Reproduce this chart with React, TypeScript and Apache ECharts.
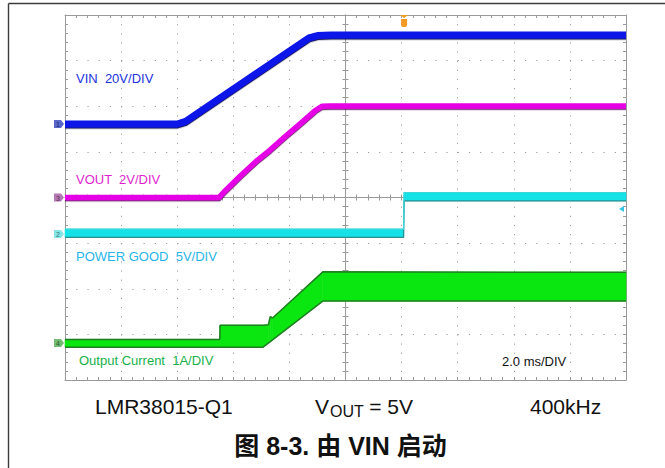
import React, { useEffect, useRef } from "react";
import * as echarts from "echarts";

// ---------- time base ----------
const MS_PER_DIV = 2.0;
const X_DIVS = 10;
const Y_DIVS = 8;
const TIME_MAX = MS_PER_DIV * X_DIVS;
const TRIGGER_T = 12.09;

// ---------- channel scales (units / division) and ground marker (divisions from bottom) ----------
const VIN_PER_DIV = 20;
const VOUT_PER_DIV = 2;
const PG_PER_DIV = 5;
const IOUT_PER_DIV = 1;
const VIN_ZERO_DIV = 5.61;
const VOUT_ZERO_DIV = 4.0;
const PG_ZERO_DIV = 3.2;
const IOUT_ZERO_DIV = 0.81;

// ---------- CH1: VIN (V) ----------
const VIN_T = [0, 4.0, 4.3, 8.7, 9.0, 9.5, 20];
const VIN_V = [0, 0, 1.2, 37.8, 38.8, 39.0, 39.0];

// ---------- CH3: VOUT (V) ----------
const VOUT_T = [0, 5.49, 5.74, 6.24, 6.81, 7.31, 7.84, 8.38, 8.91, 9.16, 9.45, 20];
const VOUT_V = [0, 0, 0.33, 0.93, 1.58, 2.08, 2.66, 3.23, 3.8, 4.0, 4.01, 4.01];

// ---------- CH2: POWER GOOD envelope (V) ----------
const PG_T = [0, 12.07, 12.09, 20];
const PG_LO = [-0.38, -0.38, 3.63, 3.63];
const PG_HI = [0.54, 0.54, 4.55, 4.55];
const PG_TRIGGER_LEVEL = 2.75;

// ---------- CH4: output current envelope (A) ----------
const IOUT_T = [0, 5.52, 5.53, 7.06, 7.25, 7.32, 7.4, 9.19, 20];
const IOUT_LO = [-0.09, -0.09, -0.09, -0.09, 0.0, 0.03, 0.07, 0.92, 0.92];
const IOUT_HI = [0.08, 0.08, 0.39, 0.39, 0.4, 0.58, 0.55, 1.56, 1.55];

// ---------- texts ----------
const CHANNEL_LABELS = ["VIN  20V/DIV", "VOUT  2V/DIV", "POWER GOOD  5V/DIV", "Output Current  1A/DIV"];
const CHANNEL_TAGS = ["1", "3", "2", "4"];
const TIMEBASE_LABEL = "2.0 ms/DIV";
const FOOT_DEVICE = "LMR38015-Q1";
const FOOT_V = "V";
const FOOT_SUB = "OUT";
const FOOT_VAL = "= 5V";
const FOOT_FREQ = "400kHz";
const CAPTION = "图 8-3. 由 VIN 启动";

// ---------- layout / style ----------
const W = 665;
const H = 468;
const GRID = { left: 65, right: 39, top: 15, bottom: 88 };
const PLOT_W = W - GRID.left - GRID.right;
const PLOT_H = H - GRID.top - GRID.bottom;
const FRAME = "#9a9a9a";
const DOT = "#9c9c9c";
const FONT = '"Liberation Sans", Arial, Helvetica, sans-serif';
const CJK_FONT = '"Liberation Sans", Arial, "Noto Sans CJK SC", sans-serif';
const TAG_PATH = "path://M0,0H7L10,4L7,8H0Z";
const TRIG_PATH = "path://M0,0H8L4,3Z M1,4H7V10Q7,12 5,12H3Q1,12 1,10Z";
const LEVEL_PATH = "path://M0,4L6,0V8Z";

const range = (zero: number, perDiv: number) => ({ min: -zero * perDiv, max: (Y_DIVS - zero) * perDiv });
const VIN_R = range(VIN_ZERO_DIV, VIN_PER_DIV);
const VOUT_R = range(VOUT_ZERO_DIV, VOUT_PER_DIV);
const PG_R = range(PG_ZERO_DIV, PG_PER_DIV);
const IOUT_R = range(IOUT_ZERO_DIV, IOUT_PER_DIV);

const zip = (t: number[], v: number[]) => t.map((x, i) => [x, v[i]]);
const segs = (t: number[], lo: number[], hi: number[]) =>
  t.slice(0, -1).map((x, i) => [x, lo[i], hi[i], t[i + 1], lo[i + 1], hi[i + 1]]);

function frameAxis(dim: "x" | "y", position: string, offset: number, inside: boolean, split: boolean) {
  const isX = dim === "x";
  const dot = isX ? PLOT_H / Y_DIVS / 5 : PLOT_W / X_DIVS / 5;
  return {
    type: "value",
    min: 0,
    max: isX ? TIME_MAX : Y_DIVS,
    interval: isX ? MS_PER_DIV : 1,
    position,
    offset,
    silent: true,
    axisLine: { show: true, onZero: false, lineStyle: { color: FRAME, width: 1 } },
    axisTick: { show: true, inside, length: 3, lineStyle: { color: FRAME, width: 1 } },
    minorTick: { show: true, splitNumber: 5, length: 3, lineStyle: { color: FRAME, width: 1 } },
    axisLabel: { show: false },
    splitLine: split
      ? { show: true, lineStyle: { color: DOT, width: 1, type: [1.2, dot - 1.2] } }
      : { show: false },
    minorSplitLine: { show: false },
    splitArea: { show: false },
  };
}

function chanAxis(r: { min: number; max: number }) {
  return { type: "value", show: false, min: r.min, max: r.max, axisLine: { onZero: false }, splitLine: { show: false } };
}

function bandFill(yIdx: number, t: number[], lo: number[], hi: number[], fill: string) {
  return {
    type: "custom",
    xAxisIndex: 0,
    yAxisIndex: yIdx,
    silent: true,
    z: 2,
    data: segs(t, lo, hi),
    encode: { x: [0, 3], y: [1, 2, 4, 5] },
    renderItem: (_p: any, api: any) => {
      const a0 = api.coord([api.value(0), api.value(1)]);
      const b0 = api.coord([api.value(0), api.value(2)]);
      const a1 = api.coord([api.value(3), api.value(4)]);
      const b1 = api.coord([api.value(3), api.value(5)]);
      return {
        type: "polygon",
        shape: { points: [a0, a1, b1, b0] },
        style: { fill, stroke: fill, lineWidth: 0.6 },
      };
    },
  };
}

function edgeLine(yIdx: number, t: number[], v: number[], color: string, width: number) {
  return {
    type: "line",
    xAxisIndex: 0,
    yAxisIndex: yIdx,
    silent: true,
    z: 3,
    symbol: "none",
    showSymbol: false,
    data: zip(t, v),
    lineStyle: { color, width },
  };
}

function traceLine(yIdx: number, t: number[], v: number[], color: string, width: number, shadow: string) {
  return {
    type: "line",
    xAxisIndex: 0,
    yAxisIndex: yIdx,
    silent: true,
    z: 3,
    symbol: "none",
    showSymbol: false,
    data: zip(t, v),
    lineStyle: { color, width, join: "round", shadowColor: shadow, shadowBlur: 0, shadowOffsetY: 1.2 },
  };
}

function marker(yIdx: number, point: number[], symbol: string, size: number[], offset: number[], fill: string, label?: string, labelColor?: string) {
  return {
    type: "scatter",
    xAxisIndex: 0,
    yAxisIndex: yIdx,
    silent: true,
    clip: false,
    z: 6,
    data: [point],
    symbol,
    symbolSize: size,
    symbolOffset: offset,
    itemStyle: { color: fill, opacity: 1 },
    label: label
      ? { show: true, position: "inside", formatter: label, fontSize: 7, fontFamily: FONT, color: labelColor, offset: [-1, 0.5] }
      : { show: false },
  };
}

function text(x: number, y: number, str: string, color: string, size: number, extra: any = {}) {
  return {
    type: "text",
    x,
    y,
    silent: true,
    z: 10,
    style: {
      text: str,
      fill: color,
      fontSize: size,
      fontFamily: FONT,
      align: "left",
      verticalAlign: "middle",
      ...extra,
    },
  };
}

function buildOption() {
  return {
    animation: false,
    backgroundColor: "#ffffff",
    grid: { ...GRID, containLabel: false, outerBoundsMode: "none" },
    xAxis: [
      frameAxis("x", "bottom", 0, true, true),
      frameAxis("x", "top", 0, true, false),
      frameAxis("x", "bottom", -PLOT_H / 2, true, false),
      frameAxis("x", "bottom", -PLOT_H / 2, false, false),
    ],
    yAxis: [
      frameAxis("y", "left", 0, true, true),
      frameAxis("y", "right", 0, true, false),
      frameAxis("y", "left", -PLOT_W / 2, true, false),
      frameAxis("y", "left", -PLOT_W / 2, false, false),
      chanAxis(VIN_R),
      chanAxis(VOUT_R),
      chanAxis(PG_R),
      chanAxis(IOUT_R),
    ],
    series: [
      // output current band
      bandFill(7, IOUT_T, IOUT_LO, IOUT_HI, "#0ae60f"),
      edgeLine(7, IOUT_T, IOUT_LO, "#1f7f22", 1.5),
      edgeLine(7, IOUT_T, IOUT_HI, "#1f7f22", 1.5),
      // power good band
      bandFill(6, PG_T, PG_LO, PG_HI, "#14e2e6"),
      edgeLine(6, PG_T, PG_LO, "#2a8f92", 1.2),
      edgeLine(6, PG_T, PG_HI, "#3fd6da", 1.2),
      // VOUT and VIN
      traceLine(5, VOUT_T, VOUT_V, "#e600e6", 5.5, "rgba(90,0,90,0.85)"),
      traceLine(4, VIN_T, VIN_V, "#0a12e8", 7, "rgba(0,0,70,0.9)"),
      // channel ground tags
      marker(4, [0, 0], TAG_PATH, [10, 8], [-6, 0], "#5867c8", CHANNEL_TAGS[0], "#1c2470"),
      marker(5, [0, 0], TAG_PATH, [10, 8], [-6, 0], "#b47ab4", CHANNEL_TAGS[1], "#5a2a5a"),
      marker(6, [0, 0], TAG_PATH, [10, 8], [-6, 0], "#86e6e6", CHANNEL_TAGS[2], "#2a7a7a"),
      marker(7, [0, 0], TAG_PATH, [10, 8], [-6, 0], "#74bb74", CHANNEL_TAGS[3], "#245a24"),
      // trigger position and PG trigger level
      marker(4, [TRIGGER_T, VIN_R.max], TRIG_PATH, [8, 12], [0, 6], "#f29a22"),
      marker(6, [TIME_MAX, PG_TRIGGER_LEVEL], LEVEL_PATH, [5, 6], [-4.5, 0], "#35c6e4"),
    ],
    graphic: [
      { type: "line", silent: true, shape: { x1: 8.5, y1: 3.5, x2: W, y2: 3.5 }, style: { stroke: "#3c3c3c", lineWidth: 1.4 } },
      { type: "line", silent: true, shape: { x1: 8.5, y1: 3.5, x2: 8.5, y2: H }, style: { stroke: "#3c3c3c", lineWidth: 1.4 } },
      text(76, 78, CHANNEL_LABELS[0], "#2233dd", 13),
      text(76, 179, CHANNEL_LABELS[1], "#e01fcf", 13),
      text(76, 256, CHANNEL_LABELS[2], "#29b5e8", 13),
      text(79, 360.5, CHANNEL_LABELS[3], "#16b14a", 13),
      text(502, 361, TIMEBASE_LABEL, "#111111", 13),
      text(95, 406, FOOT_DEVICE, "#111111", 21),
      text(315, 406, FOOT_V, "#111111", 21),
      text(330, 411, FOOT_SUB, "#111111", 16),
      text(413, 406, FOOT_VAL, "#111111", 21, { align: "right" }),
      text(530, 406, FOOT_FREQ, "#111111", 21),
      text(340.5, 446, CAPTION, "#111111", 25, { align: "center", fontWeight: "bold", fontFamily: CJK_FONT }),
    ],
  };
}

export default function App() {
  const ref = useRef<HTMLDivElement>(null);
  useEffect(() => {
    if (!ref.current) return;
    const chart = echarts.init(ref.current, null, { renderer: "svg" });
    chart.setOption(buildOption() as any);
    return () => chart.dispose();
  }, []);
  return (
    <div
      ref={ref}
      style={{ position: "fixed", left: 0, top: 0, width: W, height: H, background: "#ffffff" }}
    />
  );
}
